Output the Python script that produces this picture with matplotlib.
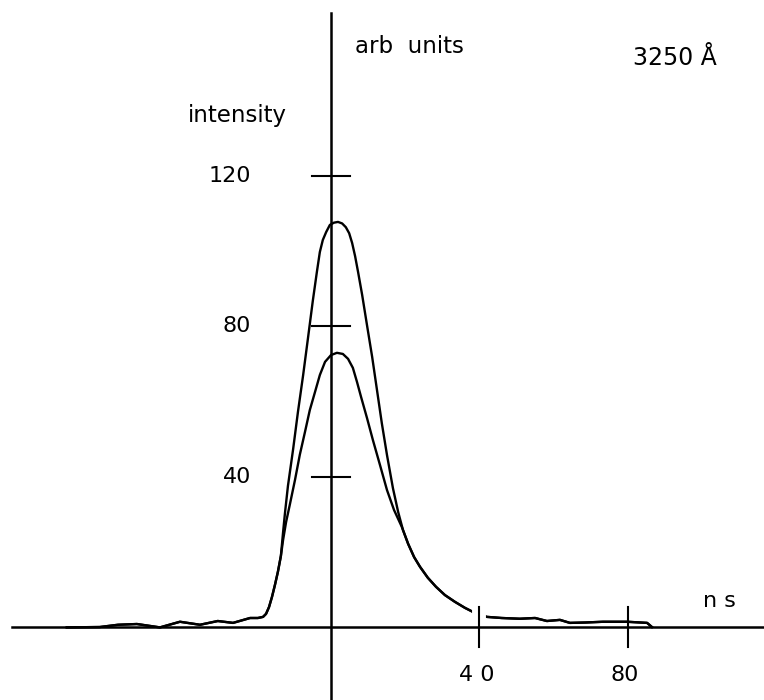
import numpy as np
from matplotlib import pyplot as plt

# shared slow rise (ns, arb units)
rise_ns = [-71.2, -62.3, -57.4, -52.3, -46.1, -40.7, -35.3, -30.5, -26.4,
           -21.8, -19.7, -18.3, -17.5, -16.7, -15.9, -15.1, -14.3, -13.5]
rise_au = [0.0, 0.1, 0.7, 0.9, 0.0, 1.5, 0.7, 1.7, 1.2,
           2.5, 2.5, 2.8, 3.6, 5.4, 8.1, 11.3, 14.8, 19.0]

# upper pulse
upper_ns = [-12.9, -12.4, -11.6, -10.2, -8.9, -7.5, -6.2, -4.9, -3.8, -3.0,
            -2.2, -1.3, -0.3, 0.8, 1.9, 3.0, 4.0, 4.9, 5.7, 6.5, 7.3, 8.4,
            9.7, 11.1, 12.4, 13.7, 15.1, 16.7, 18.1, 19.4]
upper_au = [25.4, 30.4, 37.6, 47.4, 57.3, 67.1, 76.9, 86.8, 94.5, 99.8,
            103.0, 105.1, 107.0, 107.6, 107.8, 107.4, 106.4, 104.8, 102.2,
            98.7, 94.5, 88.4, 80.4, 71.9, 63.1, 54.3, 45.8, 37.0, 30.7, 25.9]

# lower pulse
lower_ns = [-12.9, -12.1, -11.1, -9.7, -8.4, -7.0, -5.7, -4.3, -3.0, -1.6,
            0.0, 1.6, 3.2, 4.6, 5.9, 7.0, 8.1, 9.7, 11.3, 13.2, 15.1, 17.0,
            19.1]
lower_au = [23.3, 28.0, 32.6, 39.2, 45.9, 52.0, 57.8, 62.6, 67.1, 70.6,
            72.4, 73.0, 72.7, 71.4, 69.0, 65.3, 61.3, 55.7, 49.8, 43.2, 36.5,
            31.2, 26.7]

# shared tail
tail_ns = [20.8, 22.4, 24.0, 26.1, 28.3, 30.7, 33.4, 36.1, 38.3, 42.0, 46.0,
           50.9, 55.0, 58.2, 61.7, 64.4, 68.5, 73.3, 79.8, 85.2, 86.5]
tail_au = [22.2, 18.7, 16.1, 13.2, 10.8, 8.6, 6.8, 5.2, 4.1, 2.8, 2.5,
           2.3, 2.5, 1.7, 2.0, 1.2, 1.3, 1.5, 1.5, 1.2, 0.1]

y_ticks = [40, 80, 120]
x_ticks = [40, 80]
x_tick_labels = ['4 0', '80']

W, H = 764, 700
fig = plt.figure(figsize=(W / 100, H / 100), dpi=100)
ax = fig.add_axes([0, 0, 1, 1])
ax.set_xlim(-89.2, 116.7)
ax.set_ylim(-19.3, 166.8)
ax.axis('off')

for pk_ns, pk_au in [(upper_ns, upper_au), (lower_ns, lower_au)]:
    xs = np.concatenate([rise_ns, pk_ns, tail_ns])
    ys = np.concatenate([rise_au, pk_au, tail_au])
    ax.plot(xs, ys, color='black', lw=1.7, zorder=2,
            solid_joinstyle='round')

# small gap in the trace where it meets the 40 ns tick
ax.plot([40, 40], [1.0, 7.0], color='white', lw=10, zorder=3,
        solid_capstyle='butt')

# axes drawn by hand
ax.plot([-86.0, 116.7], [0, 0], color='black', lw=1.8, zorder=4)
ax.plot([0, 0], [-19.3, 163.3], color='black', lw=1.8, zorder=4)
for v in y_ticks:
    ax.plot([-5.1, 5.1], [v, v], color='black', lw=1.5, zorder=4)
    ax.annotate(str(v), (0, v), xytext=(-80, 0), textcoords='offset pixels',
                fontsize=16, ha='right', va='center')
for v, lab in zip(x_ticks, x_tick_labels):
    ax.plot([v, v], [-5.3, 5.3], color='black', lw=1.5, zorder=4)
    ax.annotate(lab, (v, 0), xytext=(-3, -48), textcoords='offset pixels',
                fontsize=16, ha='center', va='center')

fig.text(355 / W, 1 - 53 / H, 'arb  units', fontsize=16.5, ha='left',
         va='baseline')
fig.text(188 / W, 1 - 122 / H, 'intensity', fontsize=16.5, ha='left',
         va='baseline')
fig.text(633 / W, 1 - 65 / H, '3250 Å', fontsize=17, ha='left',
         va='baseline')
fig.text(703 / W, 1 - 607 / H, 'n s', fontsize=16, ha='left',
         va='baseline')

fig.savefig('out.png', dpi=100)
